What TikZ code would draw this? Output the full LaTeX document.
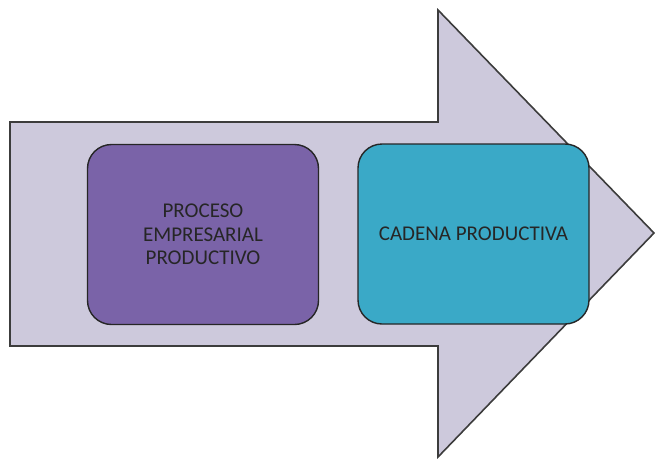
\documentclass[tikz,border=0pt]{standalone}
\usepackage{fontspec}
\setmainfont{Carlito}
\definecolor{arrowfill}{HTML}{CDC9DC}
\definecolor{arrowline}{HTML}{3C3C3C}
\definecolor{purplebox}{HTML}{7A63A8}
\definecolor{cyanbox}{HTML}{3AA9C7}
\definecolor{txt}{HTML}{262626}
\begin{document}
\begin{tikzpicture}[x=1pt,y=-1pt,
  bigarrow/.style={fill=arrowfill, draw=arrowline, line width=1.6pt, line join=miter},
  stagebox/.style={rounded corners=24pt, draw=black!85, line width=1.4pt,
    minimum width=231pt, minimum height=180pt, text=txt, align=center,
    font=\fontsize{21}{23.5}\selectfont, inner sep=0pt}]
\useasboundingbox (0,0) rectangle (655,458);
\draw[bigarrow] (10,122) -- (438,122) -- (438,10) -- (654,233) -- (438,457)
  -- (438,346) -- (10,346) -- cycle;
\node[stagebox, fill=purplebox] (proc) at (203,234.5)
  {PROCESO\\EMPRESARIAL\\PRODUCTIVO};
\node[stagebox, fill=cyanbox] (cad) at (473.5,234)
  {CADENA PRODUCTIVA};
\end{tikzpicture}
\end{document}
